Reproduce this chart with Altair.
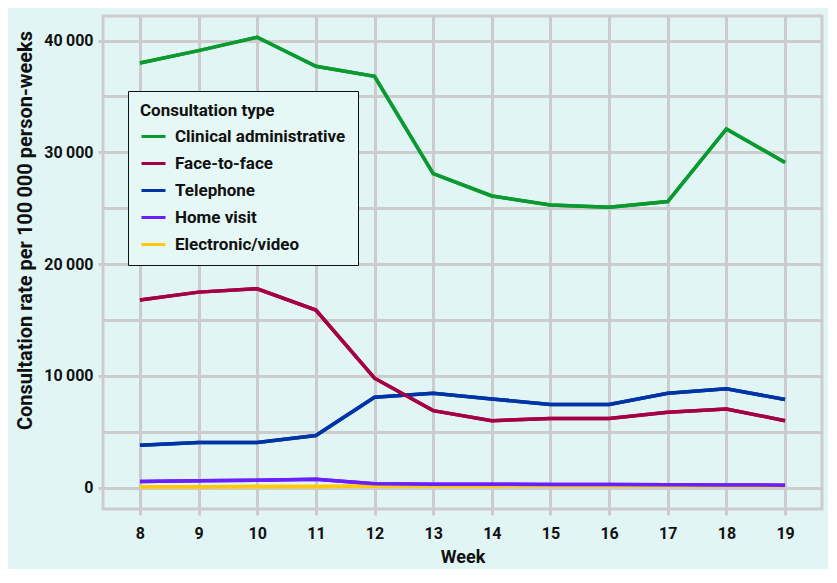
import altair as alt
import pandas as pd

weeks = [8, 9, 10, 11, 12, 13, 14, 15, 16, 17, 18, 19]
clinical = [38000, 39100, 40300, 37700, 36800, 28100, 26100, 25300, 25100, 25600, 32100, 29100]
face = [16800, 17500, 17800, 15900, 9800, 6900, 6000, 6200, 6200, 6750, 7050, 6000]
telephone = [3800, 4050, 4050, 4680, 8100, 8450, 7950, 7450, 7450, 8450, 8850, 7900]
home = [570, 620, 680, 750, 360, 320, 310, 300, 290, 270, 250, 230]
electronic = [100, 100, 110, 120, 150, 180, 190, 200, 200, 210, 210, 210]

types = ["Clinical administrative", "Face-to-face", "Telephone", "Home visit", "Electronic/video"]
colors = ["#0a9a30", "#a50044", "#0033a6", "#6a1fff", "#ffc90a"]
series = [clinical, face, telephone, home, electronic]

# drawing order: bottom-most first
draw_order = [4, 3, 2, 1, 0]
rows = []
for i in draw_order:
    t, vals = types[i], series[i]
    for w, v in zip(weeks, vals):
        rows.append({"week": w, "value": v, "type": t})
df = pd.DataFrame(rows)

FONT = "Roboto"
GRID = "#cccccc"
INK = "#111111"

xenc = alt.X(
    "week:Q",
    scale=alt.Scale(domain=[7.37, 19.63], nice=False, zero=False),
    axis=alt.Axis(
        values=weeks, title="Week", grid=True, gridColor=GRID, gridWidth=3,
        tickColor=GRID, tickWidth=3, tickSize=6, domain=False,
        labelFont=FONT, labelFontSize=16, labelFontWeight="bold", labelColor=INK,
        labelPadding=10, titleFont=FONT, titleFontSize=18, titleFontWeight="bold",
        titleColor=INK, titlePadding=7,
    ),
)
yscale = alt.Scale(domain=[-1900, 42200], nice=False, zero=False)
color = alt.Color(
    "type:N",
    scale=alt.Scale(domain=types, range=colors),
    sort=types,
    legend=alt.Legend(
        title="Consultation type", orient="none", legendX=25, legendY=75,
        fillColor="#e6f8f6", strokeColor=INK, padding=12,
        titleFont=FONT, titleFontSize=17, titleFontWeight="bold", titleColor=INK,
        labelFont=FONT, labelFontSize=17, labelFontWeight="bold", labelColor=INK,
        labelLimit=400,
        symbolType="stroke", symbolSize=576, symbolStrokeWidth=3, rowPadding=5,
        titlePadding=3, labelOffset=8,
    ),
)

grid_layer = alt.Chart(df).mark_line(strokeWidth=3.5).encode(
    x=xenc,
    y=alt.Y("value:Q", scale=yscale, axis=alt.Axis(
        values=list(range(0, 45000, 5000)), grid=True, gridColor=GRID, gridWidth=3,
        labels=False, ticks=False, domain=False, title=None, orient="right")),
    color=color,
)
label_layer = alt.Chart(df).mark_line(strokeWidth=3.5).encode(
    x=xenc,
    y=alt.Y("value:Q", scale=yscale, axis=alt.Axis(
        values=[0, 10000, 20000, 30000, 40000], grid=False, orient="left",
        tickColor=GRID, tickWidth=3, tickSize=5, domain=False,
        labelExpr="replace(format(datum.value, ','), ',', '\u2009')",
        labelFont=FONT, labelFontSize=16, labelFontWeight="bold", labelColor=INK,
        labelPadding=5, title="Consultation rate per 100\u2009000 person-weeks",
        titleFont=FONT, titleFontSize=20, titleFontWeight="bold", titleColor=INK,
        titlePadding=8, titleY=214)),
    color=color,
)

chart = alt.layer(grid_layer, label_layer).resolve_axis(y="independent").properties(
    width=719, height=493, background="#e1f6f4",
    padding={"left": 95, "top": 8, "right": 6, "bottom": 60},
    autosize=alt.AutoSizeParams(type="none"),
).configure_view(stroke=GRID, strokeWidth=3)

chart.save("out.html", embed_options={"renderer": "svg", "actions": False})
